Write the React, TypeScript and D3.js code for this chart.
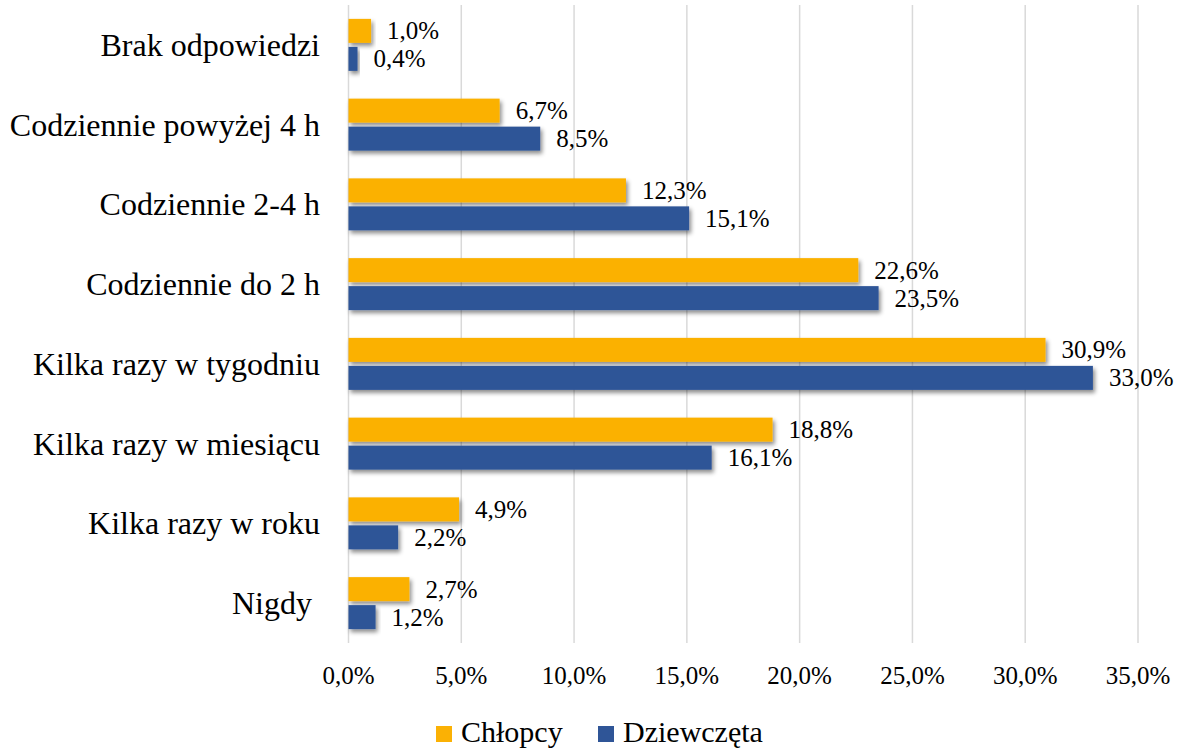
import React from "react";
import * as d3 from "d3";

const categories = [
  "Brak odpowiedzi",
  "Codziennie powyżej 4 h",
  "Codziennie 2-4 h",
  "Codziennie do 2 h",
  "Kilka razy w tygodniu",
  "Kilka razy w miesiącu",
  "Kilka razy w roku",
  "Nigdy ",
];
const seriesNames = ["Chłopcy", "Dziewczęta"];
const chlopcy = [1.0, 6.7, 12.3, 22.6, 30.9, 18.8, 4.9, 2.7];
const dziewczeta = [0.4, 8.5, 15.1, 23.5, 33.0, 16.1, 2.2, 1.2];
const xTicks = [0, 5, 10, 15, 20, 25, 30, 35];
const colors = ["#FBB104", "#2F5597"];

const W = 1180;
const H = 749;
const FONT = "Liberation Serif, Times New Roman, serif";

const fmt = (v: number) => v.toFixed(1).replace(".", ",") + "%";

export default function App() {
  const x = d3.scaleLinear().domain([0, 35]).range([348.5, 1138]);
  const y = d3.scaleBand<string>().domain(categories).range([5, 643]).padding(0);
  const inner = d3
    .scaleBand<string>()
    .domain(seriesNames)
    .range([y.bandwidth() / 2 - 26, y.bandwidth() / 2 + 26])
    .paddingInner(1 / 7)
    .paddingOuter(0);
  const series = [chlopcy, dziewczeta];
  const ts = { fontFamily: FONT } as React.CSSProperties;

  return (
    <svg
      width={W}
      height={H}
      style={{ position: "absolute", left: 0, top: 0, background: "#fff", fontFamily: FONT }}
    >
      <defs>
        <filter id="sh" x="-10%" y="-50%" width="130%" height="250%">
          <feDropShadow dx="2" dy="3" stdDeviation="2" floodColor="#000" floodOpacity="0.45" />
        </filter>
      </defs>
      <rect width={W} height={H} fill="#fff" />
      {xTicks.map((t) => (
        <g key={t}>
          <line x1={x(t)} x2={x(t)} y1={5} y2={643} stroke="#d9d9d9" strokeWidth={1.5} />
          <text x={x(t)} y={684} textAnchor="middle" fontSize={25} fill="#000" style={ts}>
            {fmt(t)}
          </text>
        </g>
      ))}
      {categories.map((c, i) => {
        const y0 = y(c)!;
        return (
          <g key={c}>
            <text
              x={320}
              y={y0 + y.bandwidth() / 2}
              textAnchor="end"
              dominantBaseline="central"
              fontSize={32}
              fill="#000"
              style={{ whiteSpace: "pre", fontFamily: FONT }}
            >
              {c}
            </text>
            {seriesNames.map((s, j) => {
              const v = series[j][i];
              const by = y0 + inner(s)!;
              return (
                <g key={s}>
                  <rect
                    x={x(0)}
                    y={by}
                    width={x(v) - x(0)}
                    height={inner.bandwidth()}
                    fill={colors[j]}
                    filter="url(#sh)"
                  />
                  <text
                    x={x(v) + 16}
                    y={by + inner.bandwidth() / 2}
                    dominantBaseline="central"
                    fontSize={25}
                    fill="#000"
                    style={ts}
                  >
                    {fmt(v)}
                  </text>
                </g>
              );
            })}
          </g>
        );
      })}
      {seriesNames.map((s, j) => {
        const lx = j === 0 ? 436 : 598;
        return (
          <g key={s}>
            <rect x={lx} y={726} width={16} height={16} fill={colors[j]} />
            <text x={lx + 25} y={742} fontSize={30} fill="#000" style={ts}>
              {s}
            </text>
          </g>
        );
      })}
    </svg>
  );
}
